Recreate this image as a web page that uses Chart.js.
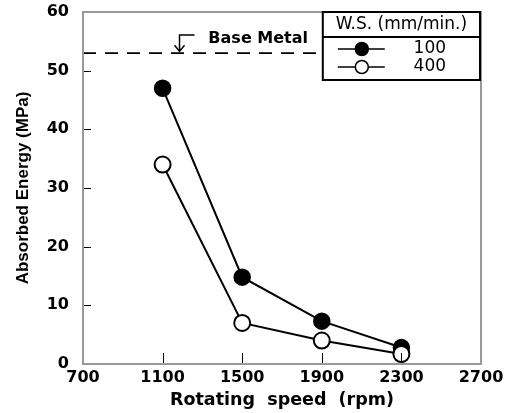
<!DOCTYPE html>
<html>
<head>
<meta charset="utf-8">
<script src="https://cdn.jsdelivr.net/npm/chart.js@4/dist/chart.umd.min.js"></script>
<style>
  html, body { margin: 0; padding: 0; background: #fff; }
  #wrap { width: 513px; height: 413px; }
</style>
</head>
<body>
<div id="wrap"><canvas id="chart" width="513" height="413"></canvas></div>
<script>
  // chart values
  const speeds = [1100, 1500, 1900, 2300];
  const energy100 = [47, 14.8, 7.3, 2.8];
  const energy400 = [34, 7.0, 4.0, 1.7];
  const baseMetal = 53;
  const baseMetalRange = [700, 1900];
  const xTicks = [700, 1100, 1500, 1900, 2300, 2700];
  const yTicks = [0, 10, 20, 30, 40, 50, 60];
  const seriesLabels = ['100', '400'];
  const legendTitle = 'W.S. (mm/min.)';

  const tickFont = { family: 'DejaVu Sans', weight: 'bold', size: 16 };

  function toPoints(xs, ys) {
    return xs.map(function(x, i){ return { x: x, y: ys[i] }; });
  }

  // frame, inward ticks, base metal note and boxed legend
  const decorations = {
    id: 'decorations',
    afterDatasetsDraw(chart) {
      const ctx = chart.ctx;
      const a = chart.chartArea;
      const xs = chart.scales.x, ys = chart.scales.y;
      ctx.save();

      // inward tick marks
      ctx.strokeStyle = '#000';
      ctx.lineWidth = 1;
      yTicks.forEach(function(v){
        const py = Math.round(ys.getPixelForValue(v)) + 0.5;
        ctx.beginPath(); ctx.moveTo(a.left, py); ctx.lineTo(a.left + 8, py); ctx.stroke();
      });
      xTicks.forEach(function(v){
        const px = Math.round(xs.getPixelForValue(v)) + 0.5;
        ctx.beginPath(); ctx.moveTo(px, a.bottom); ctx.lineTo(px, a.bottom - 11); ctx.stroke();
      });

      // plot frame
      ctx.strokeStyle = '#999';
      ctx.lineWidth = 2;
      ctx.strokeRect(a.left, a.top, a.right - a.left, a.bottom - a.top);

      // base metal label + bent arrow
      const ax = xs.getPixelForValue(1185);
      const ayTop = ys.getPixelForValue(56.1);
      const ayTip = ys.getPixelForValue(53.3);
      ctx.strokeStyle = '#000';
      ctx.lineWidth = 1.5;
      ctx.beginPath();
      ctx.moveTo(ax + 15, ayTop); ctx.lineTo(ax, ayTop); ctx.lineTo(ax, ayTip);
      ctx.stroke();
      ctx.beginPath();
      ctx.moveTo(ax - 5, ayTip - 6); ctx.lineTo(ax, ayTip); ctx.lineTo(ax + 5, ayTip - 6);
      ctx.stroke();
      ctx.fillStyle = '#000';
      ctx.font = 'bold 16px "DejaVu Sans"';
      ctx.textBaseline = 'middle';
      ctx.textAlign = 'left';
      ctx.fillText('Base Metal', xs.getPixelForValue(1330), ys.getPixelForValue(55.5));

      // legend box
      const bx = xs.getPixelForValue(baseMetalRange[1]) + 1;
      const bw = a.right - 1 - bx;
      const by = a.top;
      const bh = 68;
      ctx.fillStyle = '#fff';
      ctx.fillRect(bx, by, bw, bh);
      ctx.strokeStyle = '#000';
      ctx.lineWidth = 2;
      ctx.strokeRect(bx, by, bw, bh);
      ctx.beginPath(); ctx.moveTo(bx, by + 25); ctx.lineTo(bx + bw, by + 25); ctx.stroke();
      ctx.fillStyle = '#000';
      ctx.font = '17px "DejaVu Sans"';
      ctx.textAlign = 'center';
      ctx.fillText(legendTitle, bx + bw / 2, by + 13);
      const fills = ['#000', '#fff'];
      [37, 55].forEach(function(dy, i){
        const ly = by + dy;
        ctx.strokeStyle = '#000';
        ctx.lineWidth = 1.5;
        ctx.beginPath(); ctx.moveTo(bx + 15, ly); ctx.lineTo(bx + 62, ly); ctx.stroke();
        ctx.beginPath(); ctx.arc(bx + 39, ly, 6.5, 0, Math.PI * 2);
        ctx.fillStyle = fills[i]; ctx.fill(); ctx.stroke();
        ctx.fillStyle = '#000';
        ctx.font = '17px "DejaVu Sans"';
        ctx.textAlign = 'center';
        ctx.fillText(seriesLabels[i], bx + 107, ly);
      });
      ctx.restore();
    }
  };

  new Chart(document.getElementById('chart'), {
    type: 'line',
    data: {
      datasets: [
        {
          label: seriesLabels[1],
          data: toPoints(speeds, energy400),
          borderColor: '#000', borderWidth: 2,
          pointRadius: 8, pointBorderWidth: 2,
          pointBackgroundColor: '#fff', pointBorderColor: '#000'
        },
        {
          label: seriesLabels[0],
          data: toPoints(speeds, energy100),
          borderColor: '#000', borderWidth: 2,
          pointRadius: 8, pointBorderWidth: 1.5,
          pointBackgroundColor: '#000', pointBorderColor: '#000'
        },
        {
          label: 'Base Metal',
          data: toPoints(baseMetalRange, [baseMetal, baseMetal]),
          borderColor: '#000', borderWidth: 1.8,
          borderDash: [13, 9], pointRadius: 0
        }
      ]
    },
    options: {
      responsive: false,
      animation: false,
      layout: { autoPadding: false, padding: { left: 0, right: 32, top: 12, bottom: 0 } },
      plugins: { legend: { display: false }, tooltip: { enabled: false } },
      scales: {
        x: {
          type: 'linear', min: 700, max: 2700,
          afterBuildTicks: function(s){ s.ticks = xTicks.map(function(v){ return { value: v }; }); },
          afterFit: function(s){ s.height = 49; s.paddingLeft = 0; s.paddingRight = 0; },
          grid: { display: false, drawTicks: false },
          border: { display: false },
          ticks: { color: '#000', font: tickFont, padding: 4, maxRotation: 0,
                   callback: function(v){ return String(v); } },
          title: { display: true, text: 'Rotating  speed  (rpm)', color: '#000',
                   font: { family: 'DejaVu Sans', weight: 'bold', size: 17.5, lineHeight: 1 },
                   padding: { top: 0, bottom: 4 } }
        },
        y: {
          type: 'linear', min: 0, max: 60,
          afterBuildTicks: function(s){ s.ticks = yTicks.map(function(v){ return { value: v }; }); },
          afterFit: function(s){ s.width = 83; s.paddingTop = 0; s.paddingBottom = 0; },
          grid: { display: false, drawTicks: false },
          border: { display: false },
          ticks: { color: '#000', font: tickFont, padding: 14 },
          title: { display: true, text: 'Absorbed Energy (MPa)', color: '#000',
                   font: { family: 'Liberation Sans', weight: 'bold', size: 17, lineHeight: 1 },
                   padding: { top: 15, bottom: 0 } }
        }
      }
    },
    plugins: [decorations]
  });
</script>
</body>
</html>
